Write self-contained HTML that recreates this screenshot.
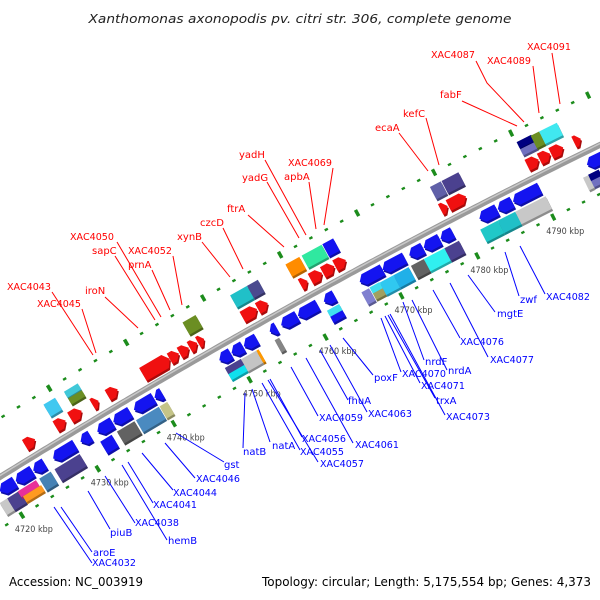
<!DOCTYPE html>
<html><head><meta charset="utf-8"><style>
html,body{margin:0;padding:0;background:#fff;}
svg{display:block;font-family:"DejaVu Sans","Liberation Sans",sans-serif;}
</style></head><body>
<svg id="map" width="600" height="600" viewBox="0 0 600 600" xmlns="http://www.w3.org/2000/svg">
<rect width="600" height="600" fill="#fff"/>
<text x="300" y="23" text-anchor="middle" font-size="12" font-style="italic" fill="#222" textLength="423" lengthAdjust="spacingAndGlyphs">Xanthomonas axonopodis pv. citri str. 306, complete genome</text>
<g id="ticks"></g><g id="backbone"></g><g id="genes"></g><g id="labels"></g>
<text x="9" y="586" font-size="12.5" fill="#000" textLength="134" lengthAdjust="spacingAndGlyphs">Accession: NC_003919</text>
<text x="591" y="586" text-anchor="end" font-size="12.5" fill="#000" textLength="329" lengthAdjust="spacingAndGlyphs">Topology: circular; Length: 5,175,554 bp; Genes: 4,373</text>
</svg>
<script>
// ---- data ----
const tickKbp = [4720, 4730, 4740, 4750, 4760, 4770, 4780, 4790];
const tickLabels = ["4720 kbp","4730 kbp","4740 kbp","4750 kbp","4760 kbp","4770 kbp","4780 kbp","4790 kbp"];
const geneStart = [4719.3,4721.4,4723.7,4726.3,4729.9,4732.1,4734.2,4736.9,4739.6,4748.1,4749.7,4751.3,4754.7,4756.2,4758.4,4761.8,4766.5,4769.5,4773.0,4774.9,4777.1,4782.2,4784.6,4786.6,4796.3,
 4718.6,4719.6,4721.0,4721.2,4723.8,4725.8,4731.8,4734.0,4736.5,4739.6,4748.2,4748.2,4750.3,4752.3,4754.7,4761.6,4761.6,4766.1,4767.2,4767.2,4768.5,4770.3,4772.6,4774.3,4777.0,4781.7,4784.0,4786.3,4795.2,4795.9,4795.9,
 4724.4,4728.4,4730.3,4733.2,4735.2,4739.8,4743.3,4744.6,4745.9,4747.0,4752.8,4754.8,4760.4,4761.7,4763.3,4764.9,4778.7,4779.7,4790.0,4791.6,4793.1,4796.1,
 4728.5,4731.2,4731.2,4746.6,4752.8,4755.0,4760.0,4762.1,4764.8,4778.8,4780.3,4790.1,4790.1,4791.9,4793.0];
const geneEnd = [4721.3,4723.6,4725.2,4729.2,4731.2,4734.1,4736.4,4739.5,4740.6,4749.6,4751.2,4753.0,4755.6,4758.3,4761.0,4763.2,4769.5,4772.4,4774.8,4777.0,4778.7,4784.5,4786.5,4790.1,4799.0,
 4719.6,4721.2,4723.4,4723.6,4725.3,4729.1,4733.3,4736.3,4739.5,4740.6,4750.3,4750.3,4752.3,4752.6,4755.3,4763.2,4763.2,4767.1,4768.5,4768.5,4770.3,4772.3,4774.3,4777.0,4778.9,4784.0,4786.3,4790.3,4795.9,4797.3,4797.3,
 4725.7,4729.7,4731.8,4734.0,4736.5,4743.3,4744.5,4745.8,4746.9,4747.8,4754.7,4756.1,4761.3,4763.2,4764.8,4766.3,4779.6,4782.0,4791.5,4793.0,4794.7,4797.0,
 4730.0,4733.0,4733.0,4748.3,4755.0,4756.4,4761.8,4764.7,4766.2,4780.2,4782.5,4792.0,4792.0,4793.0,4795.3];
const geneLane = ["ad","ad","ad","ad","ad","ad","ad","ad","ad","ad","ad","ad","ad","ad","ad","ad","ad","ad","ad","ad","ad","ad","ad","ad","ad",
 "bd","bd","bd1","bd2","bd","bd","bd","bd","bd","bd","bd1","bd2","bd","bd","bd","bd1","bd2","bd","bd1","bd2","bd","bd","bd","bd","bd","bd","bd","bd","bd","bd1","bd2",
 "au","au","au","au","au","aub","au","au","au","au","au","au","au","au","au","au","au","au","au","au","au","au",
 "bu","bu1","bu2","bu","bu","bu","bu","bu","bu","bu","bu","bu1","bu2","bu","bu"];
const geneColor = ["#1414f0","#1414f0","#1414f0","#1414f0","#1414f0","#1414f0","#1414f0","#1414f0","#1414f0","#1414f0","#1414f0","#1414f0","#1414f0","#1414f0","#1414f0","#1414f0","#1414f0","#1414f0","#1414f0","#1414f0","#1414f0","#1414f0","#1414f0","#1414f0","#1414f0",
 "#c8c8c8","#4b418f","#e8309a","#ff9a20","#4682b4","#4b418f","#1414f0","#626262","#4a8ac0","#c4c488","#4b418f","#10e0ee","#c4c4c4","#ff9900","#858585","#40e0f0","#1414f0","#8080d0","#40e0f0","#a0a060","#30c8f0","#20b0e8","#626262","#30f0f0","#4b418f","#20c8c8","#20c0c8","#c8c8c8","#c8c8c8","#000080","#7070c0",
 "#f01010","#f01010","#f01010","#f01010","#f01010","#f01010","#f01010","#f01010","#f01010","#f01010","#f01010","#f01010","#f01010","#f01010","#f01010","#f01010","#f01010","#f01010","#f01010","#f01010","#f01010","#f01010",
 "#40c8f0","#40c8d8","#6b8e23","#6b8e23","#20c0c8","#4b4a8f","#ff8c00","#30e8a0","#1414f0","#6060a8","#4b418f","#000080","#7070c0","#6b8e23","#40e8f0"];
const laneV = {ad:[12,12],au:[-14,12],aub:[-14,15],bd:[29,14],bd1:[25,7],bd2:[32,7],bu:[-32,14],bu1:[-36,7],bu2:[-28,7]};

// ---- axis ----
function P(k, v){
  const x0 = (k-4720)*7.64 - 1.3;
  const yb = 477 - 0.62*x0 + 0.000111*x0*x0;
  const m = -0.62 + 0.000222*x0;
  const n = Math.sqrt(1+m*m);
  return [x0 + v*(-m)/n, yb + v/n];
}
const NS="http://www.w3.org/2000/svg";
function mk(tag, parent){const e=document.createElementNS(NS,tag);parent.appendChild(e);return e;}
function pts(a){return a.map(p=>p[0].toFixed(1)+","+p[1].toFixed(1)).join(" ");}
function shade(hex,f){const n=parseInt(hex.slice(1),16);let r=(n>>16)&255,g=(n>>8)&255,b=n&255;r=Math.round(r*f);g=Math.round(g*f);b=Math.round(b*f);return "rgb("+r+","+g+","+b+")";}

// backbone
const bb=document.getElementById("backbone");
function curve(v){const a=[];for(let k=4716;k<=4802;k+=0.5)a.push(P(k,v));return a;}
const bbMain=mk("polyline",bb);


bbMain.setAttribute("points",pts(curve(0)));bbMain.setAttribute("fill","none");bbMain.setAttribute("stroke","#9a9a9a");bbMain.setAttribute("stroke-width","6");
const bbHi=mk("polyline",bb);


bbHi.setAttribute("points",pts(curve(-1.2)));bbHi.setAttribute("fill","none");bbHi.setAttribute("stroke","#c8c8c8");bbHi.setAttribute("stroke-width","1.5");

// tick dotted lines
const tg=document.getElementById("ticks");
function rbox(k,v,hl,hv,color,g){
  const p=mk("polygon",g);
  p.setAttribute("points",pts([P(k-hl,v-hv),P(k+hl,v-hv),P(k+hl,v+hv),P(k-hl,v+hv)]));
  p.setAttribute("fill",color);return p;
}
[-50,44].forEach(v=>{
  for(let k=4714;k<=4802;k+=2){
    const major = (k%10===0);
    const d = major ? rbox(k,v,0.2,3.5,"#1c8c1c",tg) : rbox(k,v,0.2,1.2,"#1c8c1c",tg);
    
    
  }
});
tickKbp.forEach((k,i)=>{
  const p=P(k,44);
  const t=mk("text",tg);
  
  
  t.setAttribute("x",(p[0]-7).toFixed(1));t.setAttribute("y",(p[1]+17).toFixed(1));
  t.setAttribute("font-size","9");t.setAttribute("fill","#444");t.setAttribute("textLength","38");t.setAttribute("lengthAdjust","spacingAndGlyphs");
  t.textContent=tickLabels[i];
});

// genes
const gg=document.getElementById("genes");
geneStart.forEach((s,i)=>{
  const e=geneEnd[i], lane=geneLane[i], c=geneColor[i];
  const v=laneV[lane][0], h=laneV[lane][1];
  const top=v-h/2, bot=v+h/2;
  const hd=Math.min(0.6,(e-s)*0.6);
  let shape;
  if(lane[0]==="a" && lane!=="ad") shape=[P(s,top),P(e-hd,top),P(e,v),P(e-hd,bot),P(s,bot)];
  else if(lane==="ad") shape=[P(e,top),P(e,bot),P(s+hd,bot),P(s,v),P(s+hd,top)];
  else shape=[P(s,top),P(e,top),P(e,bot),P(s,bot)];
  const sh=mk("polygon",gg);
  
  
  sh.setAttribute("points",pts(shape.map(p=>[p[0]+1.2,p[1]+2])));
  sh.setAttribute("fill",shade(c,0.7));
  const g=mk("polygon",gg);
  
  
  g.setAttribute("points",pts(shape));
  g.setAttribute("fill",c);
});

// labels
const redLabels=[["XAC4043",7,290,[[52,292],[93,355]]],["XAC4045",37,307,[[82,309],[96,353]]],["iroN",85,294,[[105,297],[138,328]]],
["XAC4050",70,240,[[117,242],[161,317]]],["sapC",92,254,[[115,256],[155,320]]],["XAC4052",128,254,[[173,256],[182,305]]],
["prnA",128,268,[[152,270],[170,310]]],["xynB",177,240,[[202,242],[230,277]]],["czcD",200,226,[[223,228],[243,269]]],
["ftrA",227,212,[[248,215],[284,247]]],["yadG",242,181,[[267,182],[299,238]]],["yadH",239,158,[[265,160],[306,235]]],
["apbA",284,180,[[309,182],[316,229]]],["XAC4069",288,166,[[333,168],[324,225]]],["ecaA",375,131,[[399,133],[428,171]]],
["kefC",403,117,[[426,118],[439,165]]],["fabF",440,98,[[462,101],[517,126]]],["XAC4087",431,58,[[476,61],[487,83],[524,122]]],
["XAC4089",487,64,[[533,66],[539,113]]],["XAC4091",527,50,[[552,53],[560,104]]]];
const blueLabels=[["aroE",93,556,[[61,507],[92,552]]],["XAC4032",92,566,[[54,507],[92,563]]],["piuB",110,536,[[88,491],[110,529]]],
["XAC4038",135,526,[[105,476],[135,523]]],["hemB",168,544,[[122,465],[167,540]]],["XAC4041",153,508,[[128,462],[153,503]]],
["XAC4044",173,496,[[142,453],[173,490]]],["XAC4046",196,482,[[165,443],[195,478]]],["gst",224,468,[[176,433],[224,462]]],
["natB",243,455,[[245,393],[243,448]]],["natA",272,449,[[252,389],[270,442]]],["XAC4055",300,455,[[262,383],[300,450]]],
["XAC4056",302,442,[[270,379],[302,437]]],["XAC4057",320,467,[[268,380],[318,462]]],["XAC4059",319,421,[[291,367],[318,416]]],
["XAC4061",355,448,[[306,358],[353,443]]],["XAC4063",368,417,[[330,345],[367,412]]],["fhuA",348,404,[[320,350],[348,400]]],
["poxF",374,381,[[343,338],[373,375]]],["XAC4070",402,377,[[381,318],[401,372]]],["XAC4071",421,389,[[385,316],[420,383]]],
["trxA",436,404,[[388,315],[435,398]]],["XAC4073",446,420,[[390,314],[445,415]]],["nrdF",425,365,[[403,302],[424,360]]],
["nrdA",448,374,[[412,300],[447,370]]],["XAC4076",460,345,[[433,290],[460,338]]],["XAC4077",490,363,[[450,283],[488,357]]],
["mgtE",497,317,[[468,275],[495,312]]],["zwf",520,303,[[505,252],[519,296]]],["XAC4082",546,300,[[520,246],[545,294]]]];
const lg=document.getElementById("labels");
function drawLabels(arr,color){
  arr.forEach(L=>{
    const pl=mk("polyline",lg);
    
    
    pl.setAttribute("points",pts(L[3]));pl.setAttribute("fill","none");pl.setAttribute("stroke",color);pl.setAttribute("stroke-width","1");
    const t=mk("text",lg);
    
    
    t.setAttribute("x",L[1]);t.setAttribute("y",L[2]);t.setAttribute("font-size","10");t.setAttribute("fill",color);
    if(L[0].length===7){t.setAttribute("textLength","44");t.setAttribute("lengthAdjust","spacingAndGlyphs");}
    t.textContent=L[0];
  });
}
drawLabels(redLabels,"#ff0000");
drawLabels(blueLabels,"#0000ff");
</script>
</body></html>
